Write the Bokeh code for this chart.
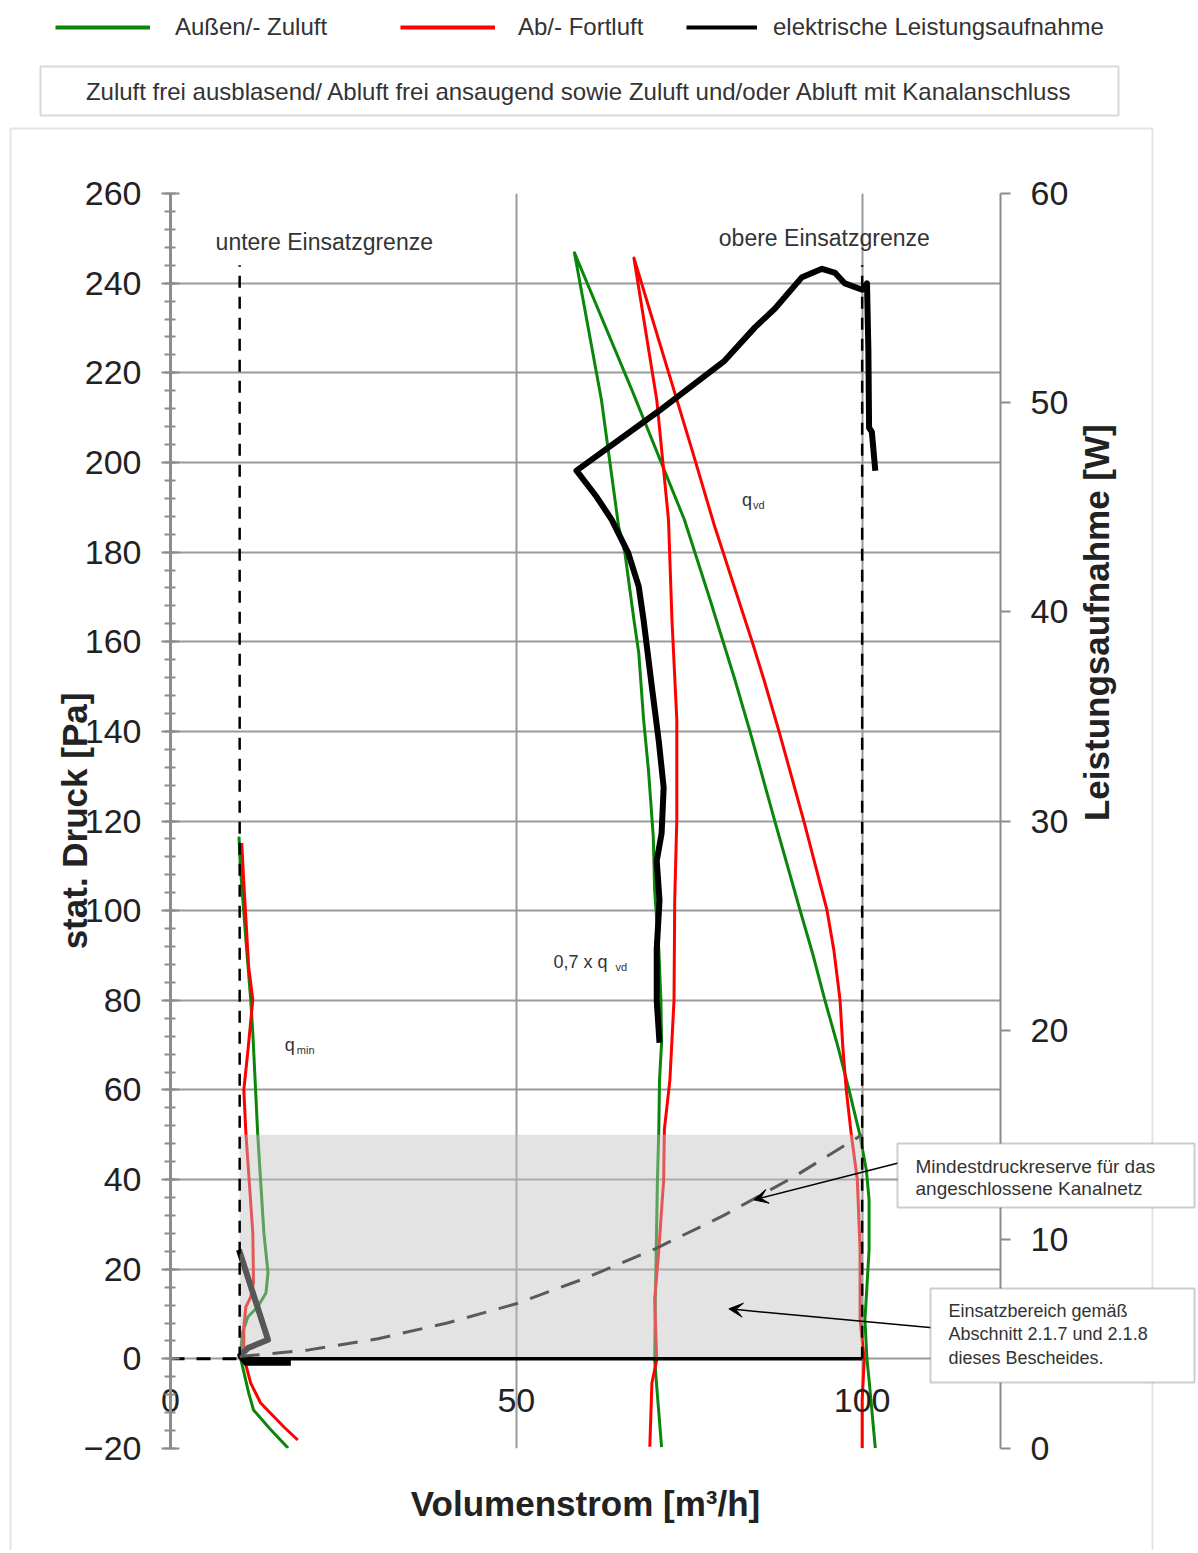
import math
from bokeh.plotting import figure
from bokeh.layouts import column
from bokeh.models import (Range1d, LinearAxis, SingleIntervalTicker, FixedTicker, Legend,
                          LegendItem, Label, BoxAnnotation, Arrow, VeeHead)
from bokeh.embed import file_html
from bokeh.resources import INLINE

FONT = "Liberation Sans"

# ---------------- data ----------------
# Volumenstrom [m3/h] vs. stat. Druck [Pa]
green_low_q = [9.9, 10.1, 10.9, 11.6, 11.9, 12.3, 12.6, 13.5, 14.1, 13.8, 12.6, 11.2, 10.4, 10.1, 11.3, 12.0, 14.5, 17.0]
green_low_p = [116.5, 109.8, 93.5, 80.1, 72.7, 60.0, 50.4, 28.1, 19.2, 14.7, 11.6, 9.4, 5.8, 0.4, -7.6, -11.4, -15.8, -19.9]
red_low_q = [10.3, 10.6, 11.3, 11.9, 11.2, 10.6, 10.9, 11.9, 12.0, 11.6, 10.9, 10.6, 10.6, 11.6, 13.0, 16.4, 18.4]
red_low_p = [115.1, 106.2, 87.5, 80.1, 68.9, 60.0, 50.4, 28.1, 17.0, 13.8, 11.6, 7.1, 0.4, -5.4, -9.8, -15.2, -18.1]

green_main_q = [71.0, 70.3, 70.0, 70.1, 70.4, 70.6, 70.7, 71.0, 70.9, 70.6, 70.0, 69.8, 69.1, 68.4, 67.7, 67.0,
                65.7, 64.8, 62.3, 58.4,
                66.7, 74.3, 78.0, 81.6, 83.8, 87.4, 91.0, 92.9, 94.6, 96.5, 98.1, 99.6, 100.6, 101.0, 101.0,
                100.4, 100.7, 101.0, 101.9]
green_main_p = [-19.7, -6.2, -0.2, 13.2, 39.9, 51.1, 62.2, 70.5, 80.1, 91.3, 104.6, 116.5, 131.4, 142.6, 157.5, 164.9,
                179.8, 185.6, 214.0, 246.8,
                216.2, 187.2, 169.4, 151.5, 139.9, 119.8, 100.2, 90.1, 80.1, 69.6, 60.0, 50.4, 42.2, 35.5, 24.3,
                8.7, -0.2, -4.7, -19.9]

red_main_q = [69.3, 69.6, 70.3, 70.0, 70.6, 71.3, 71.4, 72.2, 72.8, 72.9, 73.2, 73.2, 72.5, 72.0, 70.3, 67.0,
              75.4, 78.6, 84.1, 85.8, 88.0, 91.6, 94.9, 95.9, 96.8, 97.2, 97.7, 98.4, 99.3, 99.7, 99.7, 100.3,
              100.0, 100.0]
red_main_p = [-19.6, -5.4, -0.2, 13.2, 24.3, 39.9, 51.1, 62.2, 80.1, 102.4, 120.3, 142.6, 164.9, 187.2, 214.0, 245.6,
              202.8, 186.1, 160.0, 151.5, 139.9, 119.8, 100.2, 91.3, 80.1, 69.6, 60.0, 50.4, 39.9, 24.3, 8.7, -0.2,
              -9.1, -19.9]

# Volumenstrom [m3/h] vs. Leistungsaufnahme [W]
power_low_q = [9.9, 14.1, 11.2, 10.1, 10.9, 17.4]
power_low_w = [9.5, 5.2, 4.8, 4.45, 4.1, 4.1]
power_main_q = [70.7, 70.3, 70.3, 70.7, 70.3, 71.0, 71.3, 70.6, 69.6, 68.4, 67.7, 66.2, 63.8, 61.6, 58.7,
                70.6, 80.1, 84.5, 87.4, 91.3, 94.2, 96.1, 97.5, 100.0, 100.7, 100.9, 101.0, 101.4, 101.9]
power_main_w = [19.4, 21.4, 23.9, 26.2, 28.1, 29.4, 31.6, 33.8, 36.4, 39.6, 41.2, 42.8, 44.4, 45.5, 46.75,
                49.6, 52.0, 53.6, 54.5, 56.0, 56.4, 56.2, 55.7, 55.4, 55.7, 52.5, 48.8, 48.6, 46.75]

# Einsatzbereich and limits
range_q = [10.0, 100.0]
range_p = [0.0, 50.0]
limit_q = [10.0, 100.0]
limit_top = [244.0, 244.0]
reserve_q = [10, 20, 30, 40, 50, 60, 70, 80, 90, 100]
reserve_p = [0.5, 2.0, 4.5, 8.0, 12.3, 18.0, 24.5, 32.0, 40.5, 50.0]
lead_q = [0.0, 10.0]
lead_p = [0.0, 0.0]

x_ticks = [0, 50, 100]
series_labels = ["Außen/- Zuluft", "Ab/- Fortluft", "elektrische Leistungsaufnahme"]

GREEN = "#0a870a"
RED = "#ff0000"
BLACK = "#000000"
TXT = "#222222"

W, H = 1196, 1550
FRAME_L, FRAME_R, FRAME_T, FRAME_B = 170, 1000, 193, 1448


def no_align(fig):
    if "frame_align" in type(fig).properties():
        try:
            fig.frame_align = False
        except Exception:
            pass


# ---------------- main figure ----------------
p = figure(width=W, height=H, x_range=Range1d(0, 120), y_range=Range1d(-20, 260),
           output_backend="svg", toolbar_location=None, title=None,
           min_border_left=FRAME_L, min_border_right=W - FRAME_R,
           min_border_top=FRAME_T, min_border_bottom=H - FRAME_B)
no_align(p)
p.extra_y_ranges = {"power": Range1d(0, 60)}
p.background_fill_color = "white"
p.border_fill_color = "white"
p.outline_line_color = None

# left axis
ya = p.yaxis[0]
ya.ticker = SingleIntervalTicker(interval=20, num_minor_ticks=5)
ya.axis_line_color = "#8c8c8c"
ya.axis_line_width = 3
ya.major_tick_line_color = "#8c8c8c"
ya.major_tick_line_width = 2
ya.major_tick_in = 9
ya.major_tick_out = 9
ya.minor_tick_line_color = "#8c8c8c"
ya.minor_tick_line_width = 2
ya.minor_tick_in = 5
ya.minor_tick_out = 6
ya.major_label_text_font = FONT
ya.major_label_text_font_size = "34px"
ya.major_label_text_color = TXT
ya.major_label_standoff = 20
ya.axis_label = "stat. Druck [Pa]"
ya.axis_label_text_font = FONT
ya.axis_label_text_font_size = "35px"
ya.axis_label_text_font_style = "bold"
ya.axis_label_text_color = TXT
try:
    ya.axis_label_standoff = -13
except Exception:
    ya.axis_label_standoff = 0

# bottom axis (labels sit just below the 0-line as in the original)
xa = p.xaxis[0]
xa.ticker = FixedTicker(ticks=x_ticks)
xa.axis_line_color = None
xa.major_tick_line_color = None
xa.minor_tick_line_color = None
xa.major_tick_out = 0
xa.major_label_text_font = FONT
xa.major_label_text_font_size = "34px"
xa.major_label_text_color = TXT
try:
    xa.major_label_standoff = -60
except Exception:
    pass
xa.axis_label = "Volumenstrom [m³/h]"
xa.axis_label_text_font = FONT
xa.axis_label_text_font_size = "35px"
xa.axis_label_text_font_style = "bold"
xa.axis_label_text_color = TXT
xa.axis_label_standoff = 69

# right axis
ra = LinearAxis(y_range_name="power", ticker=SingleIntervalTicker(interval=10, num_minor_ticks=0))
ra.axis_line_color = "#8c8c8c"
ra.axis_line_width = 2
ra.major_tick_line_color = "#8c8c8c"
ra.major_tick_line_width = 2
ra.major_tick_in = 0
ra.major_tick_out = 10
ra.minor_tick_line_color = None
ra.major_label_text_font = FONT
ra.major_label_text_font_size = "34px"
ra.major_label_text_color = TXT
ra.major_label_standoff = 20
ra.axis_label = "Leistungsaufnahme [W]"
ra.axis_label_text_font = FONT
ra.axis_label_text_font_size = "35px"
ra.axis_label_text_font_style = "bold"
ra.axis_label_text_color = TXT
ra.axis_label_standoff = 25
if "axis_label_orientation" in LinearAxis.properties():
    try:
        ra.axis_label_orientation = math.pi / 2
    except Exception:
        pass
p.add_layout(ra, "right")

# grids
p.xgrid.ticker = FixedTicker(ticks=x_ticks)
p.xgrid.grid_line_color = "#9a9a9a"
p.xgrid.grid_line_width = 2
p.ygrid.ticker = SingleIntervalTicker(interval=20)
p.ygrid.grid_line_color = "#9a9a9a"
p.ygrid.grid_line_width = 2

# curves
p.line(green_low_q, green_low_p, line_color=GREEN, line_width=3, line_join="round")
p.line(red_low_q, red_low_p, line_color=RED, line_width=3, line_join="round")
p.line(green_main_q, green_main_p, line_color=GREEN, line_width=3, line_join="round")
p.line(red_main_q, red_main_p, line_color=RED, line_width=3, line_join="round")
p.line(power_low_q, power_low_w, y_range_name="power", line_color=BLACK, line_width=6, line_join="round")
p.line(power_main_q, power_main_w, y_range_name="power", line_color=BLACK, line_width=6, line_join="round")

# Einsatzbereich (semi transparent, lies over the curves)
p.quad(left=[range_q[0]], right=[range_q[1]], bottom=[range_p[0]], top=[range_p[1]],
       fill_color="#c0c0c0", fill_alpha=0.45, line_color=None)
p.line(range_q, [range_p[0], range_p[0]], line_color=BLACK, line_width=3.5)
p.line(lead_q, lead_p, line_color=BLACK, line_width=3, line_dash="14 12")
for q, top in zip(limit_q, limit_top):
    p.line([q, q], [0, top], line_color=BLACK, line_width=2.5, line_dash="12 9")
p.line(reserve_q, reserve_p, line_color="#5a5a5a", line_width=3, line_dash="20 13")


def qx(px):
    return (px - FRAME_L) / 6.9


def py_(py):
    return (1359 - py) / 4.482


p.add_layout(Arrow(end=VeeHead(size=14, fill_color=BLACK, line_color=BLACK),
                   x_start=qx(897), y_start=py_(1163), x_end=qx(752), y_end=py_(1200),
                   line_color=BLACK, line_width=1.5))
p.add_layout(Arrow(end=VeeHead(size=14, fill_color=BLACK, line_color=BLACK),
                   x_start=qx(930), y_start=py_(1328), x_end=qx(727), y_end=py_(1309),
                   line_color=BLACK, line_width=1.5))

for txt, px, pyy, fs in [("untere Einsatzgrenze", 215, 242, "23px"),
                         ("obere Einsatzgrenze", 717, 238, "23px"),
                         ("q", 284, 1045, "18px"), ("min", 296, 1050, "11px"),
                         ("q", 740, 500, "18px"), ("vd", 751, 505, "11px"),
                         ("0,7 x q", 552, 962, "18px"), ("vd", 614, 967, "11px")]:
    p.add_layout(Label(x=qx(px), y=py_(pyy), text=txt, text_font=FONT, text_font_size=fs,
                       text_color="#333333", text_align="left", text_baseline="middle"))

# ---------------- overlay (page coordinates): legend, header box, frames, notes ----------------
ov = figure(width=W, height=H, x_range=Range1d(0, W), y_range=Range1d(H, 0),
            x_axis_type=None, y_axis_type=None, output_backend="svg", toolbar_location=None,
            title=None, min_border=0, min_border_left=0, min_border_right=0,
            min_border_top=0, min_border_bottom=0)
no_align(ov)
ov.background_fill_alpha = 0
ov.border_fill_alpha = 0
ov.outline_line_color = None
ov.grid.visible = False
ov.styles = {"margin-top": f"-{H}px"}

ov.add_layout(BoxAnnotation(left=10, right=1152, top=128, bottom=1620,
                            fill_alpha=0, line_color="#a6a6a6", line_width=2))
ov.add_layout(BoxAnnotation(left=40, right=1118, top=66, bottom=115,
                            fill_color="white", fill_alpha=1, line_color="#7f7f7f", line_width=2))
ov.add_layout(Label(x=579, y=91, text="Zuluft frei ausblasend/ Abluft frei ansaugend sowie Zuluft und/oder Abluft mit Kanalanschluss",
                    text_font=FONT, text_font_size="24px", text_color="#333333",
                    text_align="center", text_baseline="middle"))

ov.add_layout(BoxAnnotation(left=897, right=1194, top=1143, bottom=1207,
                            fill_color="white", fill_alpha=1, line_color="#595959", line_width=2))
ov.add_layout(BoxAnnotation(left=930, right=1194, top=1288, bottom=1382,
                            fill_color="white", fill_alpha=1, line_color="#595959", line_width=2))
for txt, px, pyy, fs in [("Mindestdruckreserve für das", 915, 1166, "19px"),
                         ("angeschlossene Kanalnetz", 915, 1188, "19px"),
                         ("Einsatzbereich gemäß", 948, 1310, "18px"),
                         ("Abschnitt 2.1.7 und 2.1.8", 948, 1333, "18px"),
                         ("dieses Bescheides.", 948, 1357, "18px")]:
    ov.add_layout(Label(x=px, y=pyy, text=txt, text_font=FONT, text_font_size=fs,
                        text_color="#333333", text_align="left", text_baseline="middle"))

# legend samples (same styles as the series, no visible data of their own)
nan2 = [math.nan, math.nan]
lg_green = ov.line(nan2, nan2, line_color=GREEN, line_width=4)
lg_red = ov.line(nan2, nan2, line_color=RED, line_width=4)
lg_black = ov.line(nan2, nan2, line_color=BLACK, line_width=4)


def add_legend(label, rend, loc, gw, standoff):
    lg = Legend(items=[LegendItem(label=label, renderers=[rend])], location=loc,
                orientation="horizontal", glyph_width=gw, glyph_height=20, label_standoff=standoff,
                padding=0, margin=0, spacing=0, border_line_color=None, background_fill_alpha=0,
                label_text_font=FONT, label_text_font_size="24px", label_text_color="#333333")
    ov.add_layout(lg)


add_legend(series_labels[0], lg_green, (55, H - 41), 95, 25)
add_legend(series_labels[1], lg_red, (400, H - 41), 95, 23)
add_legend(series_labels[2], lg_black, (686, H - 41), 71, 16)

open("out.html", "w").write(file_html(column(p, ov), INLINE))
